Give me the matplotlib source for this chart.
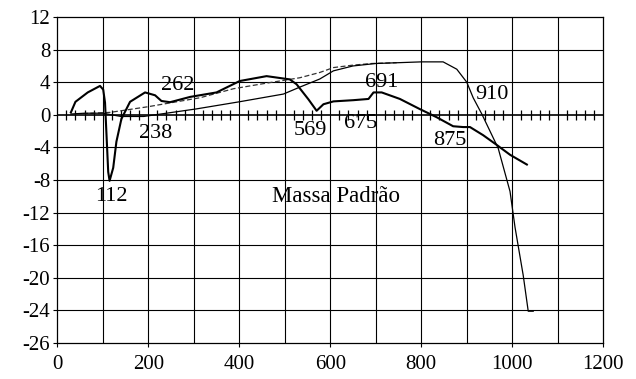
import matplotlib
matplotlib.use("Agg")
import matplotlib.pyplot as plt
import numpy as np

plt.rcParams['font.family'] = ['Liberation Serif', 'DejaVu Serif']

# Main (thick) curve
main_x = [30, 40, 67, 94, 101, 105, 112, 115, 123, 130, 141, 160, 193, 215, 229, 248,
          292, 350, 401, 460, 511, 526, 552, 570, 585, 607, 651, 684, 695, 713, 753,
          797, 834, 870, 892, 907, 936, 966, 995, 1032]
main_y = [0.3, 1.6, 2.75, 3.55, 3.1, 1.5, -7.0, -8.1, -6.5, -3.3, -0.5, 1.6, 2.75, 2.4, 1.7, 1.55,
          2.2, 2.75, 4.15, 4.75, 4.35, 3.75, 1.9, 0.5, 1.3, 1.65, 1.8, 1.95, 2.75, 2.75, 1.95,
          0.7, -0.3, -1.4, -1.5, -1.5, -2.5, -3.7, -4.9, -6.1]

# Lower thin curve (rises, plateaus, then falls sharply)
low_x = [30, 60, 100, 140, 190, 240, 306, 400, 497, 533, 577, 607, 650, 700, 750, 800,
         848, 878, 900, 914, 933, 969, 995, 1006, 1024, 1035, 1046]
low_y = [0.1, 0.2, 0.2, -0.2, -0.2, 0.2, 0.73, 1.6, 2.55, 3.4, 4.4, 5.4, 6.0, 6.3, 6.4, 6.5,
         6.5, 5.6, 4.0, 2.1, 0.1, -4.1, -9.4, -13.8, -19.7, -24.1, -24.1]

# Upper dashed thin curve
up_x = [40, 116, 200, 262, 314, 387, 450, 533, 577, 607, 650, 691, 746]
up_y = [0.1, 0.3, 1.0, 1.6, 2.1, 3.2, 3.8, 4.55, 5.2, 5.8, 6.1, 6.3, 6.4]

# Annotations
ann_text = ['112', '238', '262', '569', '675', '691', '875', '910', 'Massa Padrão']
ann_x = [120, 217, 265, 557, 666, 713, 863, 955, 612]
ann_y = [-10, -2.3, 3.6, -1.9, -1.1, 3.95, -3.1, 2.55, -10]
ann_size = [16, 16, 16, 16, 16, 16, 16, 16, 16.5]

xticks = [0, 200, 400, 600, 800, 1000, 1200]
ytick_pos = [12, 8, 4, 0, -4, -8, -12, -16, -20, -24, -28]
ytick_lab = ['12', '8', '4', '0', '-4', '-8', '-12', '-16', '-20', '-24', '-26']

fig = plt.figure(figsize=(6.36, 3.79), dpi=100)
ax = fig.add_axes([0.090, 0.095, 0.8586, 0.860])

ax.set_xlim(0, 1200)
ax.set_ylim(-28, 12)

# grid
for gx in np.arange(100, 1200, 100):
    ax.axvline(gx, color='black', lw=0.8, zorder=1)
for gy in ytick_pos[1:-1]:
    if gy == 0:
        continue
    ax.axhline(gy, color='black', lw=0.8, zorder=1)
ax.axhline(0, color='black', lw=1.2, zorder=2)
mt = [v for v in np.arange(20, 1200, 20) if v % 100 != 0]
ax.plot(mt, [0] * len(mt), linestyle='none', marker='|', markersize=7,
        markeredgewidth=0.9, color='black', zorder=2)

ax.plot(up_x, up_y, color='#333333', lw=0.9, linestyle=(0, (4, 2)), zorder=3)
ax.plot(low_x, low_y, color='black', lw=0.9, zorder=3)
ax.plot(main_x, main_y, color='black', lw=1.5, zorder=4)

for t, x, y, s in zip(ann_text, ann_x, ann_y, ann_size):
    ax.text(x, y, t, fontsize=s, ha='center', va='center', zorder=5)

ax.set_xticks(xticks)
ax.set_xticklabels([str(v) for v in xticks])
ax.set_yticks(ytick_pos)
ax.set_yticklabels(ytick_lab)
ax.tick_params(axis='both', labelsize=15, length=3, width=0.8, color='black', direction='out')
ax.tick_params(axis='x', pad=6)
ax.tick_params(axis='y', pad=2)
for s in ax.spines.values():
    s.set_linewidth(0.9)
    s.set_color('black')

fig.savefig('out.png', dpi=100)
